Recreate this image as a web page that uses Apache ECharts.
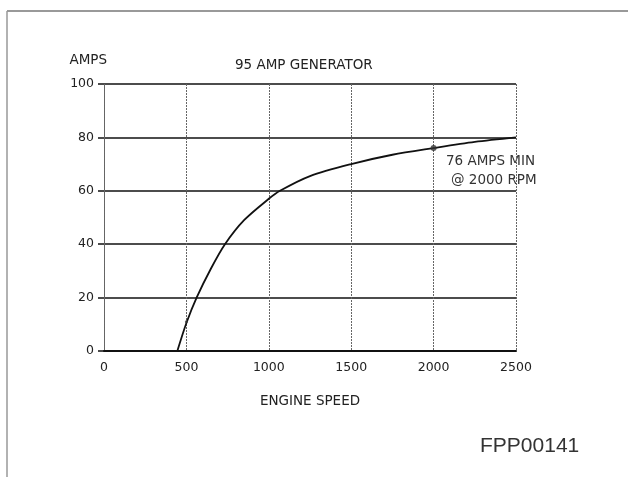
<!DOCTYPE html>
<html>
<head>
<meta charset="utf-8">
<script src="https://cdn.jsdelivr.net/npm/echarts@6/dist/echarts.min.js"></script>
<style>
    html, body { margin: 0; padding: 0; background: #fff; }
    #chart { width: 628px; height: 477px; }
</style>
</head>
<body>
<div id="chart"></div>
<script>
// curve: engine speed (rpm) -> output (amps)
var engineSpeed = [445, 500, 562, 650, 734, 850, 1000, 1068, 1250, 1500, 1750, 2000, 2250, 2500];
var amps = [0, 10.5, 20, 31, 40, 49, 57, 60, 65.5, 70, 73.5, 76, 78.3, 80];
// points marked on the curve
var markSpeed = [500, 2000];
var markAmps = [11, 76];
var xTicks = [0, 500, 1000, 1500, 2000, 2500];
var yTicks = [0, 20, 40, 60, 80, 100];

var font = 'DejaVu Sans';
var ink = '#222';

var chart = echarts.init(document.getElementById('chart'));
var option = {
    backgroundColor: '#fff',
    animation: false,
    title: {
        text: '95 AMP GENERATOR',
        left: 230,
        top: 53,
        textStyle: { fontFamily: font, fontSize: 13.5, fontWeight: 'normal', color: ink }
    },
    grid: { left: 104, top: 84, width: 412, height: 267 },
    xAxis: {
        type: 'value',
        min: xTicks[0],
        max: xTicks[xTicks.length - 1],
        interval: 500,
        name: 'ENGINE SPEED',
        nameLocation: 'middle',
        nameGap: 43,
        nameTextStyle: { fontFamily: font, fontSize: 13.5, color: ink },
        axisLine: { show: true, lineStyle: { color: '#111', width: 2 } },
        axisTick: { show: false },
        axisLabel: { fontFamily: font, fontSize: 12.5, color: ink, margin: 10, formatter: function (v) { return String(v); } },
        splitLine: { show: true, lineStyle: { color: '#666', width: 1, type: [2, 1] } }
    },
    yAxis: {
        type: 'value',
        min: yTicks[0],
        max: yTicks[yTicks.length - 1],
        interval: 20,
        name: 'AMPS',
        nameGap: 17,
        nameTextStyle: { fontFamily: font, fontSize: 13.5, color: ink, align: 'right', padding: [0, -3, 0, 0] },
        axisLine: { show: true, lineStyle: { color: '#666', width: 1, type: [2, 1] } },
        axisTick: { show: true, length: 6, lineStyle: { color: '#111', width: 1.5 } },
        axisLabel: { fontFamily: font, fontSize: 12.5, color: ink, margin: 10 },
        splitLine: { show: true, lineStyle: { color: '#111', width: 1.5 } }
    },
    series: [
        {
            type: 'line',
            data: engineSpeed.map(function (s, i) { return [s, amps[i]]; }),
            smooth: 0.3,
            showSymbol: false,
            lineStyle: { color: '#111', width: 1.8 },
            z: 3
        },
        {
            type: 'scatter',
            data: markSpeed.map(function (s, i) { return [s, markAmps[i]]; }),
            symbol: 'circle',
            symbolSize: function (v) { return v[0] === 2000 ? 6 : 3; },
            itemStyle: { color: '#333' },
            z: 4
        }
    ],
    graphic: [
        // scanned page frame
        { type: 'line', shape: { x1: 7, y1: 11, x2: 628, y2: 11 }, style: { stroke: '#777', lineWidth: 1.5 } },
        { type: 'line', shape: { x1: 7, y1: 11, x2: 7, y2: 477 }, style: { stroke: '#999', lineWidth: 1.5 } },
        {
            type: 'text', left: 446, top: 154,
            style: { text: '76 AMPS MIN', font: '13.5px "DejaVu Sans"', fill: '#333' }
        },
        {
            type: 'text', left: 451, top: 173,
            style: { text: '@ 2000 RPM', font: '13.5px "DejaVu Sans"', fill: '#333' }
        },
        {
            type: 'text', left: 480, top: 436,
            style: { text: 'FPP00141', font: '21px "Liberation Sans"', fill: '#333' }
        }
    ]
};
chart.setOption(option);
</script>
</body>
</html>
